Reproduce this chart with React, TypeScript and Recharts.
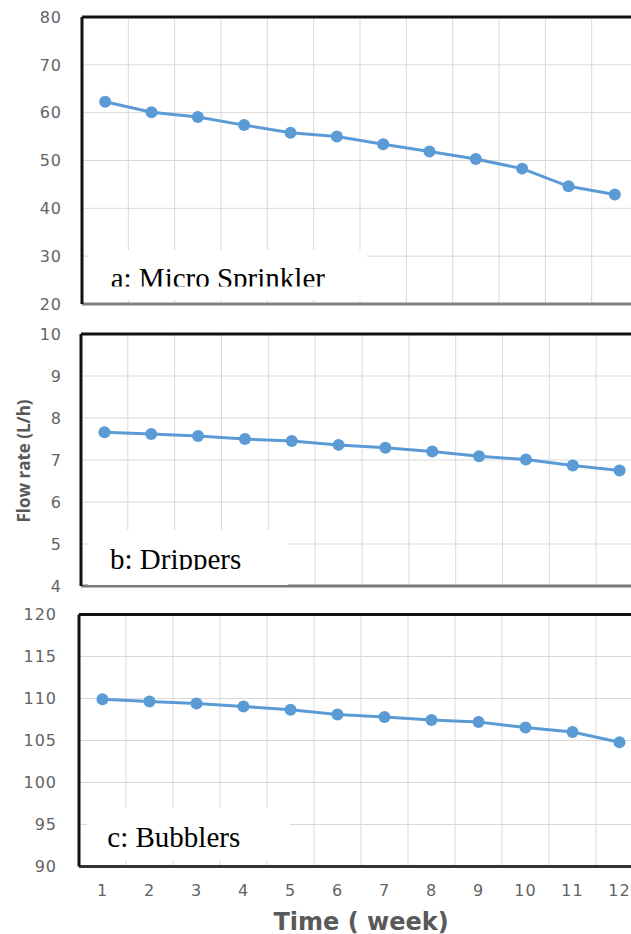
import React from 'react';
import { LineChart, Line, XAxis, YAxis, CartesianGrid, ReferenceLine } from 'recharts';

const weeks = [1, 2, 3, 4, 5, 6, 7, 8, 9, 10, 11, 12];
// category edges for the vertical gridlines (Excel "between tick marks")
const weekEdges = weeks.slice(1).map((w) => w - 0.5);

const microSprinkler = [62.3, 60.1, 59.1, 57.4, 55.8, 55.0, 53.4, 51.9, 50.3, 48.3, 44.6, 42.9];
const drippers = [7.66, 7.62, 7.57, 7.5, 7.45, 7.36, 7.29, 7.2, 7.09, 7.01, 6.87, 6.75];
const bubblers = [109.9, 109.65, 109.4, 109.05, 108.65, 108.1, 107.8, 107.45, 107.2, 106.55, 106.0, 104.8];

const sprinklerTicks = [20, 30, 40, 50, 60, 70, 80];
const dripperTicks = [4, 5, 6, 7, 8, 9, 10];
const bubblerTicks = [90, 95, 100, 105, 110, 115, 120];

const BLUE = '#5b9bd5';
const TICK_FONT = { fill: '#636363', fontSize: 16, fontFamily: 'DejaVu Sans', letterSpacing: 1 };
const X_DOMAIN: [number, number] = [0.5, 12.5];

const renderYTitle = (props: any) => {
  const vb = props.viewBox || { x: 0, y: 24, height: 252 };
  const cx = (vb.x || 0) + 23;
  const cy = vb.y + vb.height / 2 + 1;
  return (
    <text
      x={cx}
      y={cy}
      transform={`rotate(-90 ${cx} ${cy})`}
      textAnchor="middle"
      dominantBaseline="central"
      fill="#595959"
      fontFamily="Open Sans"
      fontWeight={700}
      fontSize={17}
    >
      Flow rate (L/h)
    </text>
  );
};

const renderXTitle = (props: any) => {
  const vb = props.viewBox || { x: 79, y: 276.5, width: 564 };
  const cx = vb.x + vb.width / 2;
  const cy = vb.y + 55;
  return (
    <text
      x={cx}
      y={cy}
      textAnchor="middle"
      dominantBaseline="central"
      fill="#595959"
      fontFamily="DejaVu Sans"
      fontWeight={700}
      fontSize={24}
    >
      Time ( week)
    </text>
  );
};

// vertical gridlines sit between the categories
const edgeLines = (args: any) => {
  const scale = args?.xAxis?.scale;
  const off = args.offset;
  return weekEdges.map((e) =>
    typeof scale === 'function' ? scale(e) : off.left + ((e - X_DOMAIN[0]) / (X_DOMAIN[1] - X_DOMAIN[0])) * off.width
  );
};

interface PanelProps {
  values: number[];
  yTicks: number[];
  top: number;
  height: number;
  plotTop: number;
  plotBottom: number;
  left: number;
  right: number;
  tickGap: number;
  bottomColor: string;
  xAxisHeight?: number;
  showX?: boolean;
  yTitle?: boolean;
}

const Panel = ({
  values, yTicks, top, height, plotTop, plotBottom, left, right, tickGap,
  bottomColor, xAxisHeight = 1, showX = false, yTitle = false,
}: PanelProps) => {
  const data = weeks.map((w, i) => ({ week: w, flow: values[i] }));
  const mTop = plotTop - top;
  const mBottom = height - (plotBottom - top) - xAxisHeight;
  const yMax = yTicks[yTicks.length - 1];
  return (
    <div style={{ position: 'absolute', left: 0, top }}>
      <LineChart width={right + 3} height={height} data={data} margin={{ top: mTop, right: 3, bottom: mBottom, left: 0 }}>
        <CartesianGrid stroke="#d9d9d9" strokeWidth={1} verticalCoordinatesGenerator={edgeLines} />
        <XAxis
          type="number"
          dataKey="week"
          domain={X_DOMAIN}
          ticks={weeks}
          interval={0}
          height={xAxisHeight}
          tick={showX ? TICK_FONT : false}
          tickLine={false}
          tickSize={0}
          tickMargin={18.5}
          axisLine={{ stroke: bottomColor, strokeWidth: 3 }}
          label={showX ? { content: renderXTitle } : undefined}
        />
        <YAxis
          type="number"
          domain={[yTicks[0], yMax]}
          ticks={yTicks}
          interval={0}
          width={left}
          tick={TICK_FONT}
          tickLine={false}
          tickSize={0}
          tickMargin={tickGap}
          axisLine={{ stroke: '#111', strokeWidth: 3 }}
          label={yTitle ? { content: renderYTitle } : undefined}
        />
        <ReferenceLine y={yMax} stroke="#111" strokeWidth={3} ifOverflow="visible" />
        <Line
          type="linear"
          dataKey="flow"
          stroke={BLUE}
          strokeWidth={3}
          dot={{ r: 6, fill: BLUE, stroke: BLUE, strokeWidth: 0 }}
          isAnimationActive={false}
        />
      </LineChart>
    </div>
  );
};

interface TagProps {
  text: string;
  x: number;
  y: number;
  w: number;
  h: number;
  textX: number;
  baseline: number;
  clipY: number;
  id: string;
}

const PanelTag = ({ text, x, y, w, h, textX, baseline, clipY, id }: TagProps) => (
  <svg style={{ position: 'absolute', left: x, top: y }} width={w} height={h}>
    <defs>
      <clipPath id={id}>
        <rect x={0} y={0} width={w} height={clipY - y} />
      </clipPath>
    </defs>
    <rect x={0} y={0} width={w} height={h} fill="#fff" />
    <text
      x={textX - x}
      y={baseline - y}
      clipPath={`url(#${id})`}
      fontFamily="'Liberation Serif', 'Times New Roman', serif"
      fontSize={29}
      fill="#000"
    >
      {text}
    </text>
  </svg>
);

export default function App() {
  return (
    <div
      style={{
        position: 'absolute',
        left: 0,
        top: 0,
        width: 631,
        height: 934,
        overflow: 'hidden',
        background: '#fff',
      }}
    >
      <Panel
        values={microSprinkler}
        yTicks={sprinklerTicks}
        top={0}
        height={320}
        plotTop={17}
        plotBottom={304}
        left={82}
        right={638}
        tickGap={20}
        bottomColor="#808080"
      />
      <Panel
        values={drippers}
        yTicks={dripperTicks}
        top={310}
        height={290}
        plotTop={334}
        plotBottom={586}
        left={81}
        right={643}
        tickGap={19}
        bottomColor="#7a7a7a"
        yTitle
      />
      <Panel
        values={bubblers}
        yTicks={bubblerTicks}
        top={590}
        height={344}
        plotTop={614.5}
        plotBottom={866.5}
        left={79}
        right={643}
        tickGap={22}
        bottomColor="#333"
        xAxisHeight={67.5}
        showX
      />
      <PanelTag id="tagA" text="a: Micro Sprinkler" x={88} y={250} w={279} h={50} textX={110.7} baseline={288} clipY={286.5} />
      <PanelTag id="tagB" text="b: Drippers" x={88} y={530} w={200} h={55} textX={110} baseline={568.5} clipY={570} />
      <PanelTag id="tagC" text="c: Bubblers" x={87} y={808} w={203} h={52} textX={107.3} baseline={847.3} clipY={860} />
    </div>
  );
}
